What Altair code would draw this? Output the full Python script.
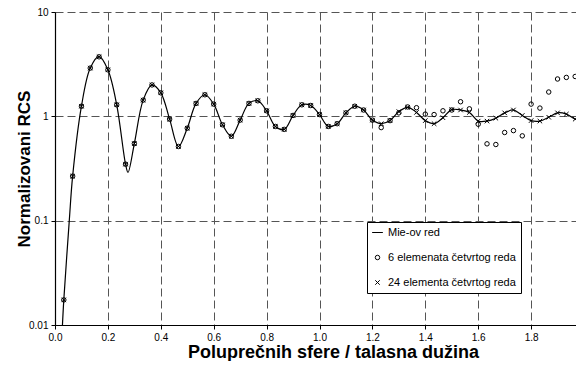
import altair as alt
import pandas as pd

# ---- data ----
lbl_mie = "Mie-ov red"
lbl_6 = "6 elemenata četvrtog reda"
lbl_24 = "24 elementa četvrtog reda"

x_pts = [0.0333, 0.0667, 0.1, 0.1333, 0.1667, 0.2, 0.2333, 0.2667, 0.3, 0.3333,
         0.3667, 0.4, 0.4333, 0.4667, 0.5, 0.5333, 0.5667, 0.6, 0.6333, 0.6667,
         0.7, 0.7333, 0.7667, 0.8, 0.8333, 0.8667, 0.9, 0.9333, 0.9667, 1.0,
         1.0333, 1.0667, 1.1, 1.1333, 1.1667, 1.2, 1.2333, 1.2667, 1.3, 1.3333,
         1.3667, 1.4, 1.4333, 1.4667, 1.5, 1.5333, 1.5667, 1.6, 1.6333, 1.6667,
         1.7, 1.7333, 1.7667, 1.8, 1.8333, 1.8667, 1.9, 1.9333, 1.9667]

six_elem = [0.0174, 0.267, 1.25, 2.90, 3.72, 2.79, 1.29, 0.348, 0.548, 1.43,
            2.0, 1.68, 0.94, 0.514, 0.77, 1.33, 1.61, 1.31, 0.83, 0.644,
            0.92, 1.33, 1.41, 1.13, 0.80, 0.75, 1.02, 1.29, 1.27, 1.04,
            0.80, 0.85, 1.08, 1.25, 1.15, 0.92, 0.78, 0.91, 1.08, 1.23,
            1.21, 1.05, 1.04, 1.13, 1.15, 1.38, 1.18, 0.84, 0.545, 0.537,
            0.70, 0.73, 0.65, 1.31, 1.20, 1.71, 2.28, 2.36, 2.41]

twentyfour_elem = [0.0174, 0.267, 1.25, 2.90, 3.72, 2.79, 1.29, 0.348, 0.548, 1.43,
                   2.0, 1.68, 0.94, 0.514, 0.77, 1.33, 1.61, 1.31, 0.83, 0.644,
                   0.92, 1.33, 1.41, 1.13, 0.80, 0.75, 1.02, 1.29, 1.27, 1.04,
                   0.80, 0.85, 1.08, 1.25, 1.15, 0.92, 0.85, 0.91, 1.11, 1.22,
                   1.09, 0.91, 0.85, 0.97, 1.16, 1.15, 1.09, 0.90, 0.90, 0.96,
                   1.08, 1.15, 1.02, 0.91, 0.90, 0.98, 1.08, 1.05, 0.94]

mie_x = [0.028, 0.0333, 0.054, 0.0667, 0.1, 0.1333, 0.1667, 0.2, 0.2333, 0.2667,
         0.276, 0.3, 0.3333, 0.3667, 0.4, 0.4333, 0.4667,
         0.5, 0.5333, 0.5667, 0.6, 0.6333, 0.6667, 0.7, 0.7333, 0.7667, 0.8,
         0.8333, 0.8667, 0.9, 0.9333, 0.9667, 1.0, 1.0333, 1.0667, 1.1, 1.1333,
         1.1667, 1.2, 1.2333, 1.2667, 1.3, 1.3333, 1.3667, 1.4, 1.4333, 1.4667,
         1.5, 1.5333, 1.5667, 1.6, 1.6333, 1.6667, 1.7, 1.7333, 1.7667, 1.8,
         1.8333, 1.8667, 1.9, 1.9333, 1.9667, 2.0]
mie_y = [0.0098, 0.0174, 0.1, 0.267, 1.25, 2.90, 3.75, 2.79, 1.29, 0.348,
         0.29, 0.548, 1.43, 2.0, 1.68, 0.94, 0.514,
         0.77, 1.33, 1.61, 1.31, 0.83, 0.644, 0.92, 1.33, 1.41, 1.13,
         0.80, 0.75, 1.02, 1.29, 1.27, 1.04, 0.80, 0.85, 1.08, 1.25,
         1.15, 0.92, 0.85, 0.91, 1.11, 1.22, 1.09, 0.91, 0.85, 0.97,
         1.16, 1.15, 1.09, 0.90, 0.90, 0.96, 1.08, 1.15, 1.02, 0.91,
         0.90, 0.98, 1.08, 1.05, 0.94, 0.89]

x_ticks = [0.0, 0.2, 0.4, 0.6, 0.8, 1.0, 1.2, 1.4, 1.6, 1.8, 2.0]
y_ticks = [0.01, 0.1, 1, 10]

# ---- tables ----
pts = pd.DataFrame({
    "x": x_pts + x_pts,
    "y": six_elem + twentyfour_elem,
    "series": [lbl_6] * len(x_pts) + [lbl_24] * len(x_pts),
})
mie = pd.DataFrame({"x": mie_x, "y": mie_y})

FONT = "Liberation Sans"

x_enc = alt.X("x:Q",
              scale=alt.Scale(domain=[0, 2], nice=False, zero=False),
              axis=alt.Axis(title="Poluprečnih sfere / talasna dužina",
                            values=x_ticks, format=".1f"))
y_enc = alt.Y("y:Q",
              scale=alt.Scale(type="log", domain=[0.01, 10], nice=False),
              axis=alt.Axis(title="Normalizovani RCS", values=y_ticks, format="~g"))

line = alt.Chart(mie).mark_line(
    color="black", strokeWidth=1.2, interpolate="catmull-rom", clip=True
).encode(x=x_enc, y=y_enc)

points = alt.Chart(pts).mark_point(
    filled=False, color="black", size=20, strokeWidth=1, opacity=1
).encode(
    x=x_enc, y=y_enc,
    shape=alt.Shape("series:N",
                    scale=alt.Scale(domain=[lbl_mie, lbl_6, lbl_24],
                                    range=["M-2.4,0L2.4,0", "circle",
                                           "M-1,-1L1,1M-1,1L1,-1"]),
                    legend=alt.Legend(title=None, orient="none",
                                      legendX=312, legendY=210,
                                      fillColor="white", strokeColor="black",
                                      padding=5, rowPadding=13,
                                      labelFont=FONT, labelFontSize=11,
                                      labelColor="black", labelOffset=5,
                                      symbolSize=20, symbolStrokeWidth=1,
                                      symbolStrokeColor="black")),
)

chart = alt.layer(line, points).properties(
    width=529, height=313,
    autosize=alt.AutoSizeParams(type="none"),
    padding={"left": 47, "top": 4, "right": -8, "bottom": 36},
).configure_view(strokeWidth=0).configure_axis(
    labelFont=FONT, labelFontSize=10, labelColor="black", labelFlush=False,
    titleFont=FONT, titleFontWeight="bold", titleColor="black",
    domainColor="black", domainWidth=1.2, tickColor="black", tickSize=4,
    grid=True, gridColor="#555555", gridDash=[8, 4], gridWidth=1,
    labelPadding=3,
).configure_axisY(titlePadding=-5, titleFontSize=17).configure_axisX(
    titleFontSize=18, titleX=278, titleY=32, titleBaseline="alphabetic")

chart.save("out.html", embed_options={"renderer": "svg", "actions": False})
